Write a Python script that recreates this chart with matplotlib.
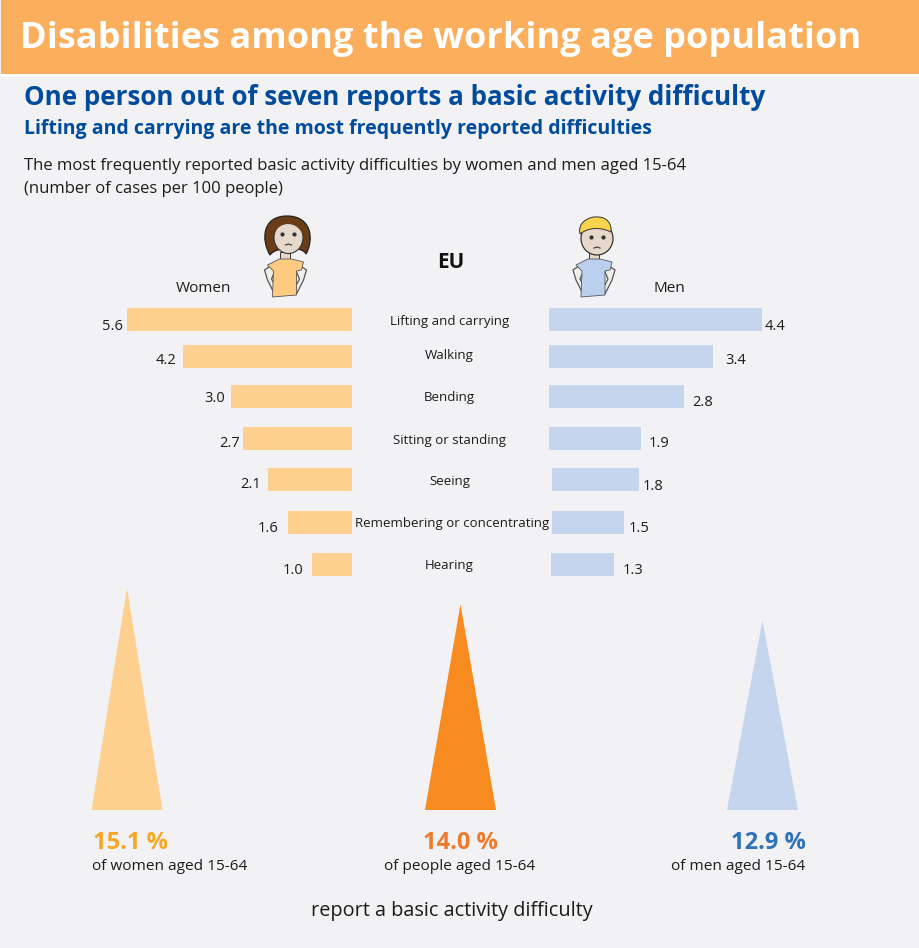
import matplotlib
matplotlib.use("Agg")
import matplotlib.pyplot as plt
from matplotlib.patches import Ellipse, PathPatch, Polygon, Rectangle
from matplotlib.path import Path

plt.rcParams['font.family'] = ['Open Sans', 'DejaVu Sans']

# data
categories = ["Lifting and carrying", "Walking", "Bending", "Sitting or standing",
              "Seeing", "Remembering or concentrating", "Hearing"]
women = [5.6, 4.2, 3.0, 2.7, 2.1, 1.6, 1.0]
men = [4.4, 3.4, 2.8, 1.9, 1.8, 1.5, 1.3]
totals = [15.1, 14.0, 12.9]
total_labels = ["15.1 %", "14.0 %", "12.9 %"]
total_notes = ["of women aged 15-64", "of people aged 15-64", "of men aged 15-64"]

# layout, in pixels of the 920x948 picture
W, H = 920, 948
row_y = [319.5, 356.5, 396, 438, 479, 522, 564]
label_x = [449.5, 449.5, 449.5, 449.5, 449.5, 452, 449.5]
label_y = [322, 356, 398, 440, 481, 523, 566]
women_val_y = [327, 361, 399, 443, 484, 528, 571]
men_val_y = [327, 361, 402, 443, 486, 529, 571]
women_val_right = [123, 176, 225, 240, 261, 278, 303]
men_val_left = [765, 725, 692, 649, 643, 629, 623]
men_start = [549, 549, 549, 549, 552, 552, 551]
bar_h = 23
women_base, men_base = 352, 549
women_scale, men_scale = 40.2, 48.3   # px per case
tri_scale = 14.7                      # px per percent
tri_base_y = 810
tri_x = [127, 460.5, 762.5]
tri_half = 35.5

BG = "#f2f2f4"
ORANGE_BAND = "#fbae5c"
LIGHT_ORANGE = "#fdd08f"
LIGHT_BLUE = "#c6d5ee"
DEEP_ORANGE = "#f78b1f"
NAVY = "#004b9b"
TEXT = "#1c1c1c"

fig = plt.figure(figsize=(W / 100, H / 100), dpi=100, facecolor=BG)


def px_axes(x0, y0, x1, y1, zorder=1):
    # axes placed by picture pixels, y measured from the top
    ax = fig.add_axes([x0 / W, 1 - y1 / H, (x1 - x0) / W, (y1 - y0) / H], zorder=zorder)
    ax.axis("off")
    return ax


def curve(points, **kw):
    # points: start, then groups of three bezier points
    codes = [Path.MOVETO] + [Path.CURVE4] * (len(points) - 1) + [Path.CLOSEPOLY]
    return PathPatch(Path(points + [points[0]], codes), **kw)


# overlay for text and the drawn figures
bg = px_axes(0, 0, W, H, zorder=3)
bg.set_xlim(0, W)
bg.set_ylim(H, 0)

bg.add_patch(Rectangle((1, 0), W, 74, color=ORANGE_BAND, lw=0))
bg.add_patch(Rectangle((1, 74), W, 2.5, color="#fbfbfb", lw=0))

bg.text(20, 39, "Disabilities among the working age population", color="white",
        fontsize=26, fontweight="bold", va="center")
bg.text(24, 97, "One person out of seven reports a basic activity difficulty", color=NAVY,
        fontsize=18.7, fontweight="bold", va="center")
bg.text(24, 129, "Lifting and carrying are the most frequently reported difficulties", color=NAVY,
        fontsize=14, fontweight="bold", va="center")
bg.text(24, 166, "The most frequently reported basic activity difficulties by women and men aged 15-64",
        color=TEXT, fontsize=12, va="center")
bg.text(24, 189, "(number of cases per 100 people)", color=TEXT, fontsize=12, va="center")

bg.text(203.5, 288, "Women", color=TEXT, fontsize=11, ha="center", va="center")
bg.text(669, 288, "Men", color=TEXT, fontsize=11, ha="center", va="center")
bg.text(451, 262, "EU", color="#111111", fontsize=14.9, fontweight="bold", ha="center", va="center")

# left bars
ax_w = px_axes(0, 0, women_base, H)
ax_w.set_xlim(women_base / women_scale, 0)
ax_w.set_ylim(H, 0)
ax_w.barh(row_y, women, height=bar_h, color=LIGHT_ORANGE)

# right bars
ax_m = px_axes(men_base, 0, W, H)
ax_m.set_xlim(0, (W - men_base) / men_scale)
ax_m.set_ylim(H, 0)
ax_m.barh(row_y, men, height=bar_h, color=LIGHT_BLUE,
          left=[(s - men_base) / men_scale for s in men_start])

for i, cat in enumerate(categories):
    bg.text(label_x[i], label_y[i], cat, color=TEXT, fontsize=9.5, ha="center", va="center")
    bg.text(women_val_right[i], women_val_y[i], f"{women[i]:.1f}",
            color=TEXT, fontsize=10.5, ha="right", va="center")
    bg.text(men_val_left[i], men_val_y[i], f"{men[i]:.1f}",
            color=TEXT, fontsize=10.5, ha="left", va="center")

# triangles, height follows the percentage
tri_colors = [LIGHT_ORANGE, DEEP_ORANGE, LIGHT_BLUE]
pct_colors = ["#f5a623", "#ee7a2b", "#2f72b8"]
pct_x = [130.5, 460, 768]
note_x = [169.5, 460, 738.5]
ax_t = px_axes(0, tri_base_y - 240, W, tri_base_y)
ax_t.set_xlim(0, W)
ax_t.set_ylim(0, 240 / tri_scale)
for i, value in enumerate(totals):
    ax_t.fill([tri_x[i] - tri_half, tri_x[i], tri_x[i] + tri_half], [0, value, 0],
              color=tri_colors[i], lw=0)
    bg.text(pct_x[i], 843, total_labels[i], color=pct_colors[i], fontsize=17,
            fontweight="bold", ha="center", va="center")
    bg.text(note_x[i], 866, total_notes[i], color=TEXT, fontsize=11.1, ha="center", va="center")

bg.text(451.5, 911, "report a basic activity difficulty", color=TEXT, fontsize=14.3, ha="center", va="center")


def draw_body(cx, shirt):
    # arms on the hips, neck and shirt; cx is the shirt centre
    skin = "#e6d8cb"
    for side in (-1, 1):
        bg.add_patch(Polygon([(cx + side * 12, 264), (cx + side * 21, 270), (cx + side * 18, 280),
                              (cx + side * 11, 294), (cx + side * 8, 290), (cx + side * 14, 279),
                              (cx + side * 11, 272)],
                             fc="#efefe9", ec="#555555", lw=0.9, zorder=2))
    bg.add_patch(Rectangle((cx - 5, 252), 10, 10, fc=skin, ec="#333333", lw=0.7, zorder=2))
    bg.add_patch(Polygon([(cx - 6, 259), (cx + 6, 259), (cx + 18, 262), (cx + 16, 270),
                          (cx + 11, 271), (cx + 11, 295), (cx - 13, 297), (cx - 12, 271),
                          (cx - 18, 265)],
                         fc=shirt, ec="#555555", lw=0.6, zorder=3))


def draw_face(fx, fy):
    bg.plot([fx - 6, fx + 6], [fy - 4, fy - 4], ls="none", marker="o", ms=2, color="#333333", zorder=7)
    bg.plot([fx - 3, fx, fx + 3], [fy + 7, fy + 6, fy + 7], color="#444444", lw=0.9, zorder=7)


# woman
draw_body(285.5, "#fdca80")
bg.add_patch(curve([(270, 255), (261, 240), (262, 216), (287, 216),
                    (312, 216), (314, 240), (306, 254), (303, 246), (276, 246), (270, 255)],
                   fc="#6b3d17", ec="#222222", lw=0.9, zorder=4))
bg.add_patch(Ellipse((288.5, 237.5), 29, 32, fc="#e6d8cb", ec="#333333", lw=0.8, zorder=5))
bg.add_patch(curve([(274, 236), (274, 214), (303, 214), (303, 236),
                    (300, 226), (292, 224), (288, 224), (284, 224), (276, 226), (274, 236)],
                   fc="#6b3d17", lw=0, zorder=6))
draw_face(288.5, 238)

# man
draw_body(594, "#b9d0ee")
bg.add_patch(Ellipse((597, 238.5), 32, 33, fc="#e6d8cb", ec="#333333", lw=0.9, zorder=5))
bg.add_patch(curve([(580, 234), (577, 222), (590, 216), (598, 217),
                    (607, 217), (612, 224), (611, 232), (603, 228), (590, 226), (580, 234)],
                   fc="#f7d44c", ec="#333333", lw=0.7, zorder=6))
draw_face(597, 241)

bg.set_xlim(0, W)
bg.set_ylim(H, 0)
fig.savefig("out.png", dpi=100, facecolor=BG)
